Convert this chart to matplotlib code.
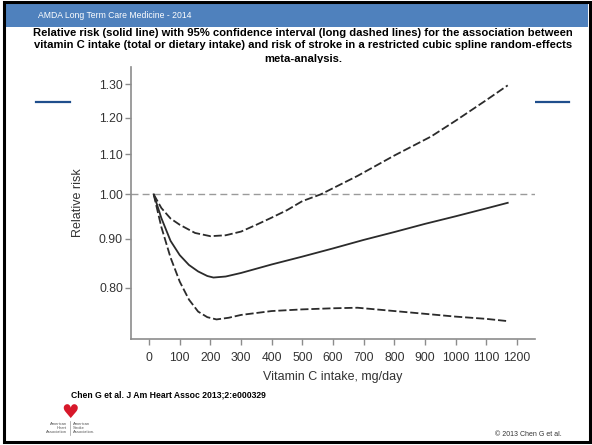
import matplotlib
matplotlib.use("Agg")
import matplotlib.pyplot as plt
from matplotlib.patches import Rectangle
from matplotlib.lines import Line2D
from matplotlib.ticker import FixedLocator, FormatStrFormatter, NullLocator

plt.rcParams['font.family'] = ['Liberation Sans', 'DejaVu Sans']

# data (vitamin C intake mg/day -> relative risk)
x_upper = [15, 40, 70, 100, 150, 200, 250, 300, 350, 400, 450, 500, 560, 680, 800, 920, 1000, 1100, 1170]
rr_upper = [1.00, 0.968, 0.944, 0.930, 0.912, 0.905, 0.907, 0.915, 0.930, 0.946, 0.963, 0.984, 1.000, 1.045, 1.097, 1.148, 1.192, 1.252, 1.297]

x_rr = [15, 40, 70, 100, 130, 160, 190, 210, 250, 300, 400, 500, 600, 700, 800, 900, 1000, 1100, 1170]
rr = [1.00, 0.945, 0.895, 0.865, 0.845, 0.832, 0.823, 0.820, 0.822, 0.829, 0.846, 0.862, 0.879, 0.897, 0.914, 0.932, 0.949, 0.967, 0.980]

x_lower = [15, 40, 70, 100, 130, 160, 190, 220, 260, 300, 400, 500, 600, 680, 800, 900, 1000, 1100, 1170]
rr_lower = [1.00, 0.925, 0.860, 0.812, 0.778, 0.756, 0.746, 0.742, 0.745, 0.750, 0.757, 0.760, 0.762, 0.763, 0.757, 0.752, 0.747, 0.743, 0.739]

y_ticks = [0.80, 0.90, 1.00, 1.10, 1.20, 1.30]
x_ticks = [0, 100, 200, 300, 400, 500, 600, 700, 800, 900, 1000, 1100, 1200]

title_lines = ['Relative risk (solid line) with 95% confidence interval (long dashed lines) for the association between',
               'vitamin C intake (total or dietary intake) and risk of stroke in a restricted cubic spline random-effects',
               'meta-analysis.']

W, H = 592, 445
fig = plt.figure(figsize=(W / 100, H / 100), dpi=100)
fig.patch.set_facecolor('white')


def fx(px):
    return px / W


def fy(py):
    return 1 - py / H


# slide frame + header bar
fig.add_artist(Rectangle((fx(5), fy(27)), 583 / W, 24 / H, transform=fig.transFigure,
                         facecolor='#4f81bd', edgecolor='none', zorder=1))
fig.add_artist(Rectangle((fx(3.5), fy(441.5)), 586 / W, 440 / H, transform=fig.transFigure,
                         fill=False, edgecolor='black', lw=2.2, zorder=10))
fig.text(fx(38), fy(15.5), 'AMDA Long Term Care Medicine - 2014', color='white',
         fontsize=6.2, va='center', ha='left')

# title; the last line is partly hidden behind the chart picture, as on the slide
for line, yy in zip(title_lines, [32.5, 45.5, 59.5]):
    fig.text(fx(303), fy(yy), line, fontsize=8.1, fontweight='bold', ha='center', va='center',
             color='black', zorder=3)
fig.add_artist(Rectangle((fx(131), fy(67)), 404 / W, 4 / H, transform=fig.transFigure,
                         facecolor='white', edgecolor='none', zorder=4))

# short blue rules either side of the chart
for x0, x1 in [(36, 70), (536, 569)]:
    fig.add_artist(Line2D([fx(x0), fx(x1)], [fy(101.7), fy(101.7)], transform=fig.transFigure,
                          color='#1f4e8c', lw=1.6))

ax = fig.add_axes([fx(131), fy(338.5), 404 / W, 271.8 / H])
ax.set_zorder(5)

ax.axhline(1.0, color='#9a9a9a', lw=1.0, dashes=(5, 3))
ax.plot(x_upper, rr_upper, color='#2b2b2b', lw=1.3, dashes=(4.5, 1.6))
ax.plot(x_rr, rr, color='#2b2b2b', lw=1.3)
ax.plot(x_lower, rr_lower, color='#2b2b2b', lw=1.3, dashes=(4.5, 1.6))

ax.set_yscale('log')
ax.set_xlim(-59, 1259)
ax.set_ylim(0.709, 1.356)
ax.yaxis.set_major_locator(FixedLocator(y_ticks))
ax.yaxis.set_major_formatter(FormatStrFormatter('%.2f'))
ax.yaxis.set_minor_locator(NullLocator())
ax.set_xticks(x_ticks)

for s in ['top', 'right']:
    ax.spines[s].set_visible(False)
for s in ['left', 'bottom']:
    ax.spines[s].set_color('#8c8c8c')
    ax.spines[s].set_linewidth(1.2)

ax.tick_params(axis='both', colors='#8c8c8c', labelcolor='#333333', length=4, width=1,
               direction='out', labelsize=8.7)
ax.tick_params(axis='x', pad=5.7)
ax.tick_params(axis='y', pad=1.8)

ax.set_ylabel('Relative risk', fontsize=9, color='#333333')
ax.yaxis.set_label_coords(-0.117, 0.5)
ax.set_xlabel('Vitamin C intake, mg/day', fontsize=9, color='#333333')
ax.xaxis.set_label_coords(0.5, -0.12)

# footer
fig.text(fx(71), fy(395), 'Chen G et al. J Am Heart Assoc 2013;2:e000329', fontsize=6.2,
         fontweight='bold', ha='left', va='center')
fig.text(fx(562), fy(434), '\u00a9 2013 Chen G et al.', fontsize=5, color='#333333',
         ha='right', va='center')

# AHA / ASA logo (approximate)
fig.text(fx(70), fy(412), '\u2665', fontsize=14, color='#d7182a', ha='center', va='center',
         family='DejaVu Sans')
fig.text(fx(67), fy(428), 'American\nHeart\nAssociation', fontsize=3, color='#555555',
         ha='right', va='center', linespacing=1.1)
fig.text(fx(73), fy(428), 'American\nStroke\nAssociation.', fontsize=3, color='#555555',
         ha='left', va='center', linespacing=1.1)
fig.add_artist(Line2D([fx(70), fx(70)], [fy(421), fy(435)], transform=fig.transFigure,
                      color='#999999', lw=0.5))

fig.savefig('out.png', dpi=100, facecolor='white')
